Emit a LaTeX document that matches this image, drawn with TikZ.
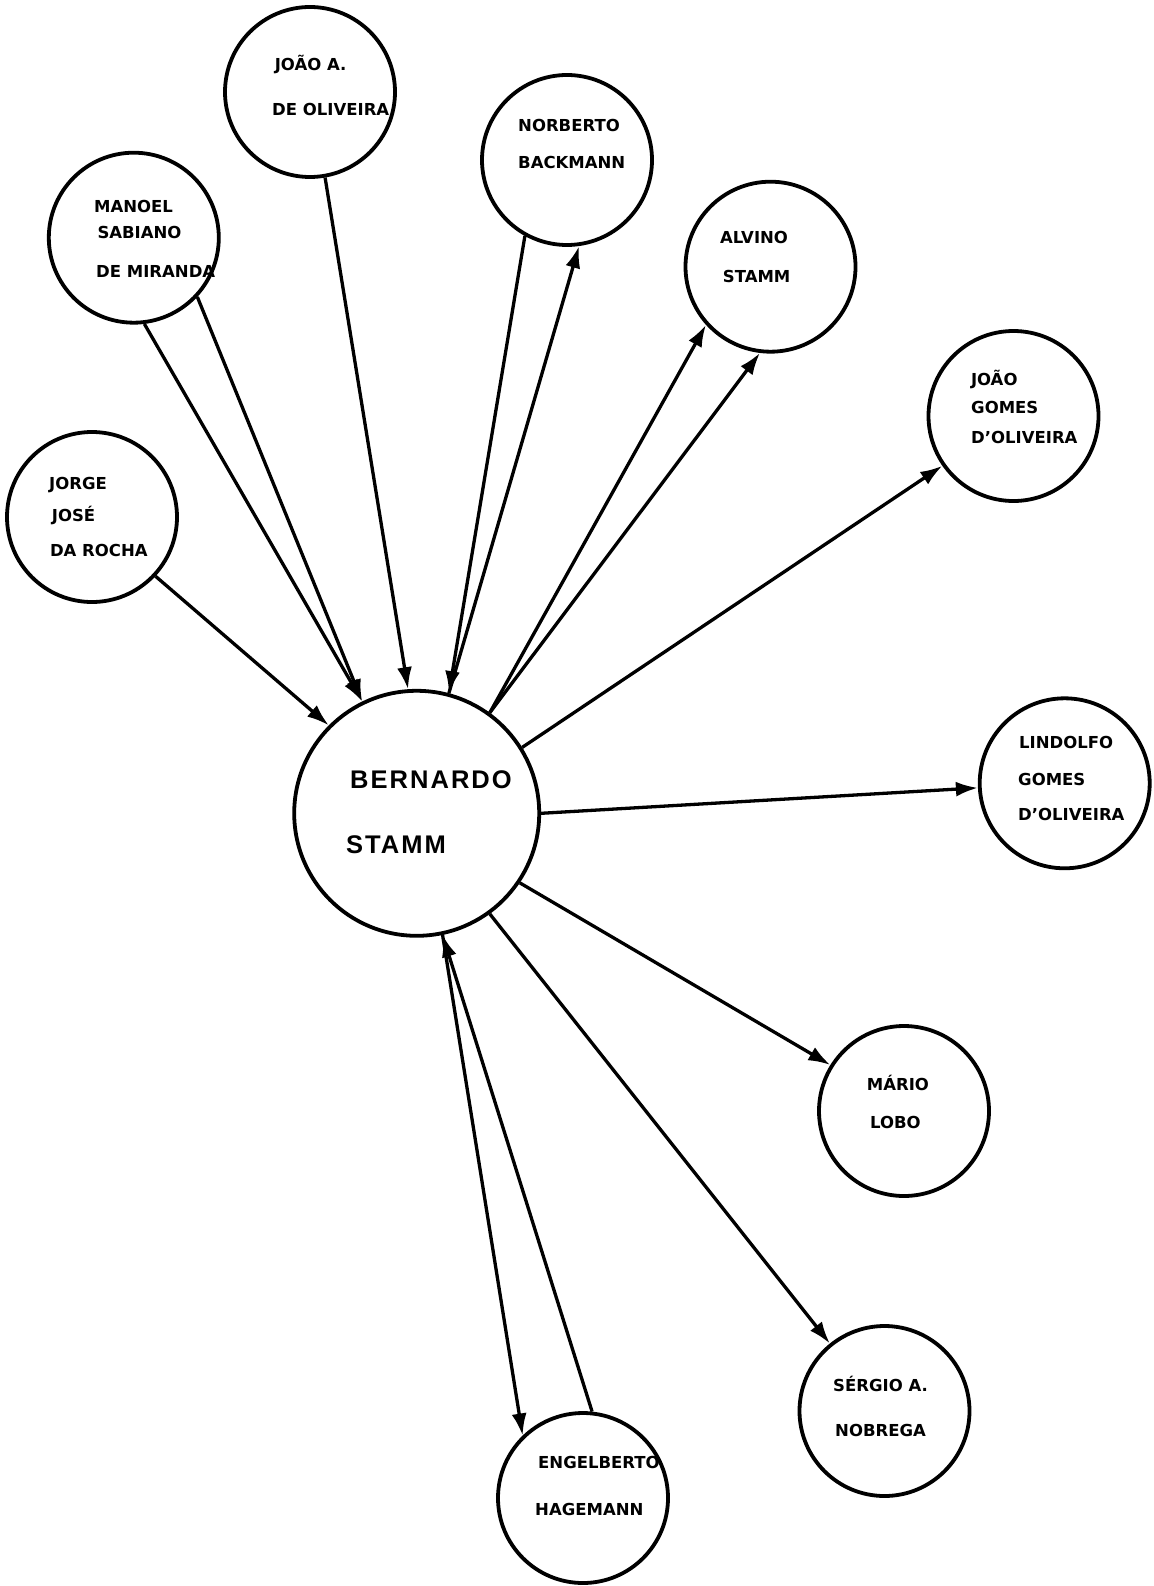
\documentclass[tikz,border=0pt]{standalone}
\usepackage{fontspec}
\setmainfont{DejaVu Sans}
\newfontfamily\hubfont{Liberation Sans}[LetterSpace=8]
\usetikzlibrary{arrows.meta}

\begin{document}
\begin{tikzpicture}[x=1pt,y=-1pt,
  person/.style={circle, draw, line width=3.8pt, minimum size=170pt, inner sep=0pt},
  hub/.style={person, minimum size=245pt},
  lbl/.style={anchor=base west, inner sep=0pt, font=\fontsize{16.5}{16.5}\selectfont\bfseries},
  hublbl/.style={anchor=base west, inner sep=0pt, font=\hubfont\fontsize{25.5}{25.5}\selectfont\bfseries},
  tie/.style={line width=3.3pt, -{Latex[length=22pt,width=15pt]}},
  bare/.style={line width=3.3pt}]

% sheet
\fill[white] (0,0) rectangle (1153,1586);
\useasboundingbox (0,0) rectangle (1153,1586);

% people
\node[hub]    (bernardo)   at (416.7,813.3) {};
\node[person] (joaoA)      at (310,92)      {};
\node[person] (norberto)   at (567,160)     {};
\node[person] (manoel)     at (133.8,237.7) {};
\node[person] (alvino)     at (770.5,266.7) {};
\node[person] (joaoG)      at (1013.5,416)  {};
\node[person] (jorge)      at (92,517)      {};
\node[person] (lindolfo)   at (1064.7,783.3){};
\node[person] (mario)      at (904,1111)    {};
\node[person] (sergio)     at (884.5,1411)  {};
\node[person] (engelberto) at (583,1498)    {};

% names
\node[hublbl] (bernardo-a) at (350,788)  {BERNARDO};
\node[hublbl] (bernardo-b) at (346,853)  {STAMM};

\node[lbl] (joaoA-a) at (274.6,71) {JOÃO A.};
\node[lbl] (joaoA-b) at (272,116)  {DE OLIVEIRA};

\node[lbl] (norberto-a) at (518,131.7) {NORBERTO};
\node[lbl] (norberto-b) at (518,169)   {BACKMANN};

\node[lbl] (manoel-a) at (94,212.7)  {MANOEL};
\node[lbl] (manoel-b) at (97.3,239)  {SABIANO};
\node[lbl] (manoel-c) at (96,277.7)  {DE MIRANDA};

\node[lbl] (alvino-a) at (720,243.3)   {ALVINO};
\node[lbl] (alvino-b) at (722.7,282.7) {STAMM};

\node[lbl] (joaoG-a) at (970.8,385) {JOÃO};
\node[lbl] (joaoG-b) at (971,413)   {GOMES};
\node[lbl] (joaoG-c) at (971,443)   {D'OLIVEIRA};

\node[lbl] (jorge-a) at (49,489.3)   {JORGE};
\node[lbl] (jorge-b) at (51.7,521.7) {JOSÉ};
\node[lbl] (jorge-c) at (49.8,556.7) {DA ROCHA};

\node[lbl] (lindolfo-a) at (1019,748.3) {LINDOLFO};
\node[lbl] (lindolfo-b) at (1018,785)   {GOMES};
\node[lbl] (lindolfo-c) at (1018,820.7) {D'OLIVEIRA};

\node[lbl] (mario-a) at (866.7,1090) {MÁRIO};
\node[lbl] (mario-b) at (870,1128.3) {LOBO};

\node[lbl] (sergio-a) at (833,1391.7) {SÉRGIO A.};
\node[lbl] (sergio-b) at (835,1436)   {NOBREGA};

\node[lbl] (engelberto-a) at (538,1468) {ENGELBERTO};
\node[lbl] (engelberto-b) at (535,1515) {HAGEMANN};

% ties
\draw[tie]  (jorge.-43.4)    -- (bernardo.135.5);
\draw[tie]  (manoel.-83.6)   -- (bernardo.116);
\draw[tie]  (manoel.-43.1)   -- (bernardo.116);
\draw[tie]  (joaoA.-80)      -- (bernardo.94.6);
\draw[tie]  (norberto.241)   -- (bernardo.75.9);
\draw[tie]  (bernardo.75.9)  -- (norberto.278.9);
\draw[tie]  (bernardo.54.1)  -- (alvino.222.3);
\draw[tie]  (bernardo.54.1)  -- (alvino.263);
\draw[tie]  (bernardo.32.3)  -- (joaoG.215);
\draw[tie]  (bernardo.0.6)   -- (lindolfo.183.4);
\draw[tie]  (bernardo.-34.8) -- (mario.148.9);
\draw[tie]  (bernardo.-54.2) -- (sergio.129);
\draw[tie]  (bernardo.-78)   -- (engelberto.134.2);
\draw[tie]  (engelberto.84.1) -- (bernardo.-78);
\end{tikzpicture}
\end{document}
